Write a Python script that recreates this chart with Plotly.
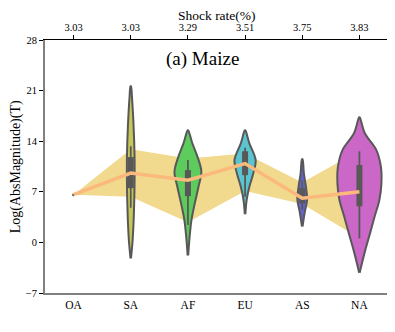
import plotly.graph_objects as go

regions = ["OA", "SA", "AF", "EU", "AS", "NA"]
shock_rate = ["3.03", "3.03", "3.29", "3.51", "3.75", "3.83"]
mean_vals = [6.6, 9.6, 8.6, 10.9, 6.1, 7.0]
band_upper = [6.6, 12.9, 11.6, 12.3, 8.3, 12.7]
band_lower = [6.6, 6.3, 2.8, 7.1, 5.3, 0.6]

# violin profiles: levels (value) and half-widths (category units)
sa_levels = [-2.2, 0, 2, 4, 6, 8, 10, 12, 14, 16, 18, 20, 21.6]
sa_widths = [0.004, 0.03, 0.045, 0.055, 0.062, 0.066, 0.068, 0.066, 0.06, 0.05, 0.038, 0.022, 0.004]
af_levels = [-1.8, 0.8, 3.1, 5.4, 7.7, 9.8, 11.9, 13.7, 15.5]
af_widths = [0.005, 0.03, 0.062, 0.12, 0.185, 0.235, 0.165, 0.078, 0.005]
eu_levels = [3.9, 5.9, 7.7, 9.6, 11.4, 13.7, 15.5]
eu_widths = [0.005, 0.028, 0.075, 0.145, 0.185, 0.075, 0.005]
as_levels = [2.2, 4.1, 5.9, 7.7, 9.6, 11.5]
as_widths = [0.005, 0.042, 0.085, 0.064, 0.028, 0.005]
na_levels = [-4.2, -3.4, -1.07, 1.25, 3.55, 5.9, 8.2, 10.5, 12.8, 15.1, 17.3]
na_widths = [0.005, 0.028, 0.102, 0.185, 0.265, 0.35, 0.385, 0.375, 0.295, 0.095, 0.005]

# box stats: whisker low, q1, q3, whisker high
box_low = [None, 4.8, 2.4, 6.3, 4.5, 0.55]
box_q1 = [None, 7.5, 6.4, 9.3, 5.4, 5.0]
box_q3 = [None, 11.8, 10.0, 12.6, 7.5, 10.7]
box_high = [None, 13.3, 11.4, 13.1, 8.6, 12.6]

colors = [None, "#c5c75a", "#5dcc5d", "#5ac4cf", "#6565d2", "#cb67c6"]
profiles = [None, (sa_levels, sa_widths), (af_levels, af_widths), (eu_levels, eu_widths),
            (as_levels, as_widths), (na_levels, na_widths)]

pos = list(range(len(regions)))
fig = go.Figure()

# band
fig.add_trace(go.Scatter(x=pos + pos[::-1], y=band_upper + band_lower[::-1],
                         fill="toself", fillcolor="#f1d98e", line=dict(width=0),
                         mode="lines", hoverinfo="skip", showlegend=False))

outline = "#585858"
for i, prof in enumerate(profiles):
    if prof is None:
        continue
    lv, wd = prof
    xs = [i + w for w in wd] + [i - w for w in wd[::-1]]
    ys = list(lv) + list(lv[::-1])
    fig.add_trace(go.Scatter(x=xs, y=ys, fill="toself", fillcolor=colors[i],
                             line=dict(color=outline, width=2, shape="spline"),
                             mode="lines", showlegend=False, hoverinfo="skip"))
    fig.add_trace(go.Scatter(x=[i, i], y=[box_low[i], box_high[i]], mode="lines",
                             line=dict(color=outline, width=1.8), showlegend=False))
    fig.add_trace(go.Scatter(x=[i, i], y=[box_q1[i], box_q3[i]], mode="lines",
                             line=dict(color=outline, width=6), showlegend=False))

# OA single point
fig.add_trace(go.Scatter(x=[0], y=[mean_vals[0]], mode="markers",
                         marker=dict(color=outline, size=3), showlegend=False))

# mean line
fig.add_trace(go.Scatter(x=pos, y=mean_vals, mode="lines",
                         line=dict(color="#fbb97c", width=3.5), showlegend=False))

# dummy trace for top axis
fig.add_trace(go.Scatter(x=pos, y=mean_vals, xaxis="x2", mode="lines",
                         line=dict(width=0), opacity=0, showlegend=False, hoverinfo="skip"))

font_family = "'Liberation Serif', 'Times New Roman', Times, serif"
fig.update_layout(
    width=387, height=316,
    margin=dict(l=37, r=7, t=32, b=31, autoexpand=False),
    plot_bgcolor="white", paper_bgcolor="white",
    font=dict(family=font_family, color="black", size=11),
    showlegend=False,
    xaxis=dict(range=[-0.5, 5.5], tickvals=pos, ticktext=regions, showgrid=False,
               zeroline=False, showline=True, linecolor="#808080", linewidth=2,
               ticks="", tickfont=dict(size=11.5, family=font_family), automargin=False),
    xaxis2=dict(range=[-0.5, 5.5], tickvals=pos, ticktext=shock_rate, overlaying="x",
                side="top", showgrid=False, zeroline=False, showline=True,
                linecolor="black", linewidth=1, ticks="outside", ticklen=4,
                tickcolor="black", tickfont=dict(size=10.5, family=font_family), automargin=False),
    yaxis=dict(range=[-7, 28], tickvals=[-7, 0, 7, 14, 21, 28],
               ticktext=["\u22127", "0", "7", "14", "21", "28"],
               showgrid=False, zeroline=False, showline=True, linecolor="#808080",
               linewidth=2, mirror=True, ticks="outside", ticklen=4, tickcolor="black",
               tickfont=dict(size=10.5, family=font_family), automargin=False),
    annotations=[
        dict(text="(a) Maize", x=0.4606, y=0.9265, xref="paper", yref="paper",
             xanchor="center", yanchor="middle", showarrow=False,
             font=dict(size=19, family=font_family)),
        dict(text="Shock rate(%)", x=0.5, y=1.0968, xref="paper", yref="paper",
             xanchor="center", yanchor="middle", showarrow=False,
             font=dict(size=13.5, family=font_family)),
        dict(text="Log(AbsMagnitude)(T)", x=-0.0851, y=0.5, xref="paper", yref="paper",
             xanchor="center", yanchor="middle", textangle=-90, showarrow=False,
             font=dict(size=14, family=font_family)),
    ],
)

fig.write_html("out.html")
